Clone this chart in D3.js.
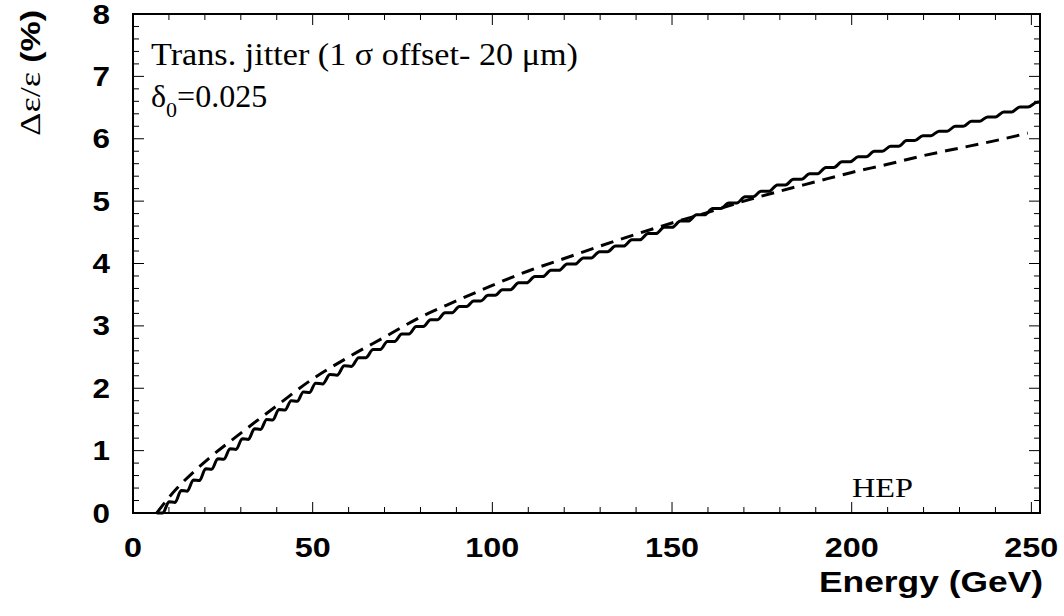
<!DOCTYPE html>
<html><head><meta charset="utf-8">
<script src="https://cdn.jsdelivr.net/npm/d3@7"></script>
<style>body{margin:0;background:#fff}svg{display:block}</style>
</head><body><svg id="c" width="1064" height="616"></svg>
<script>
// ---- data ----
const xTickValues = [0, 50, 100, 150, 200, 250];
const xTickLabels = ["0", "50", "100", "150", "200", "250"];
const yTickValues = [0, 1, 2, 3, 4, 5, 6, 7, 8];
const yTickLabels = ["0", "1", "2", "3", "4", "5", "6", "7", "8"];

// dashed (smooth) curve: energy (GeV), value (%)
const dashedE = [6.6, 10, 20, 30, 40, 50, 60, 70, 80, 90, 100, 110, 120, 130, 140, 150, 160, 170, 180, 190, 200, 210, 220, 230, 240, 249];
const dashedV = [0, 0.25, 0.82, 1.28, 1.72, 2.15, 2.50, 2.82, 3.14, 3.40, 3.65, 3.88, 4.08, 4.28, 4.47, 4.65, 4.82, 5.00, 5.16, 5.31, 5.46, 5.59, 5.73, 5.85, 5.97, 6.09];

// solid (wiggly) curve: [energy, value]
const solidPoints = [
 [6.6,0.00],[8.3,0.00],[10.0,0.18],[11.7,0.17],[13.4,0.36],[15.1,0.35],[16.8,0.53],[18.5,0.52],
 [20.2,0.71],[21.9,0.70],[23.6,0.87],[25.3,0.86],[27.0,1.03],[28.7,1.02],[30.4,1.19],[32.1,1.18],
 [33.8,1.35],[35.5,1.34],[37.2,1.50],[38.9,1.49],[40.6,1.66],[42.3,1.65],[44.0,1.80],[45.7,1.79],
 [47.4,1.94],[49.1,1.93],[50.8,2.08],[52.8,2.07],[54.8,2.22],[56.8,2.21],[58.8,2.36],[60.8,2.35],
 [62.8,2.49],[64.8,2.49],[66.8,2.62],[68.8,2.62],[70.8,2.75],[72.8,2.75],[74.8,2.87],[76.8,2.87],
 [78.8,2.99],[80.8,2.99],[82.8,3.10],[84.8,3.10],[86.8,3.21],[88.8,3.21],[90.8,3.31],[92.8,3.31],
 [94.8,3.40],[96.8,3.40],[98.8,3.49],[100.8,3.49],[102.8,3.58],[105.05,3.58],[107.3,3.69],[109.55,3.69],
 [111.8,3.79],[114.05,3.79],[116.3,3.89],[118.55,3.89],[120.8,3.99],[123.05,3.99],[125.3,4.09],[127.55,4.09],
 [129.8,4.19],[132.05,4.19],[134.3,4.28],[136.55,4.28],[138.8,4.38],[141.05,4.38],[143.3,4.48],[145.55,4.48],
 [147.8,4.58],[150.05,4.58],[152.3,4.68],[154.55,4.68],[156.8,4.78],[159.05,4.78],[161.3,4.88],[163.55,4.88],
 [165.8,4.97],[168.05,4.97],[170.3,5.07],[172.55,5.07],[174.8,5.16],[177.05,5.16],[179.3,5.26],[181.55,5.26],
 [183.8,5.35],[186.05,5.35],[188.3,5.44],[190.55,5.44],[192.8,5.54],[195.05,5.54],[197.3,5.63],[199.55,5.63],
 [201.8,5.71],[204.05,5.71],[206.3,5.80],[208.55,5.80],[210.8,5.88],[213.05,5.88],[215.3,5.97],[217.55,5.97],
 [219.8,6.05],[222.05,6.05],[224.3,6.12],[226.55,6.12],[228.8,6.20],[231.05,6.20],[233.3,6.28],[235.55,6.28],
 [237.8,6.35],[240.05,6.35],[242.3,6.43],[244.55,6.43],[246.8,6.51],[249.05,6.51],[251.3,6.58],[252.4,6.59]
];

// ---- layout ----
const svg = d3.select("#c");
const L = 133, R = 1040, T = 14, B = 513;
const x = d3.scaleLinear().domain([0, 252.4]).range([L, R]);
const y = d3.scaleLinear().domain([0, 8]).range([B, T]);

const sans = "'Liberation Sans', Arial, Helvetica, sans-serif";
const serif = "'Liberation Serif', 'Times New Roman', Times, serif";

// ticks (inward on all four sides)
const xMinor = d3.range(10, 252, 10).filter(v => v % 50 !== 0);
const yMinor = d3.range(0.2, 8, 0.2).filter(v => Math.abs(v - Math.round(v)) > 1e-6);
const tk = svg.append("g").attr("stroke", "#000").attr("stroke-width", 1);
function xt(vals, len) {
  vals.forEach(v => {
    tk.append("line").attr("x1", x(v)).attr("x2", x(v)).attr("y1", B).attr("y2", B - len);
    tk.append("line").attr("x1", x(v)).attr("x2", x(v)).attr("y1", T).attr("y2", T + len);
  });
}
function yt(vals, len) {
  vals.forEach(v => {
    tk.append("line").attr("y1", y(v)).attr("y2", y(v)).attr("x1", L).attr("x2", L + len);
    tk.append("line").attr("y1", y(v)).attr("y2", y(v)).attr("x1", R).attr("x2", R - len);
  });
}
xt(xTickValues, 11); xt(xMinor, 6);
yt(yTickValues, 11); yt(yMinor, 6);

// frame
svg.append("rect").attr("x", L).attr("y", T).attr("width", R - L).attr("height", B - T)
  .attr("fill", "none").attr("stroke", "#000").attr("stroke-width", 2);

// tick labels
svg.append("g").selectAll("text").data(xTickValues).join("text")
  .attr("x", d => x(d)).attr("y", 557).attr("text-anchor", "middle")
  .attr("font-family", sans).attr("font-weight", "bold").attr("font-size", 27)
  .attr("textLength", (d, i) => xTickLabels[i].length * 18).attr("lengthAdjust", "spacingAndGlyphs")
  .text((d, i) => xTickLabels[i]);
svg.append("g").selectAll("text").data(yTickValues).join("text")
  .attr("x", 110).attr("y", d => y(d) + 9.5).attr("text-anchor", "end")
  .attr("font-family", sans).attr("font-weight", "bold").attr("font-size", 27)
  .attr("textLength", 17.5).attr("lengthAdjust", "spacingAndGlyphs")
  .text((d, i) => yTickLabels[i]);

// axis titles
svg.append("text").attr("x", 1043).attr("y", 592).attr("text-anchor", "end")
  .attr("font-family", sans).attr("font-weight", "bold").attr("font-size", 30)
  .attr("textLength", 224).attr("lengthAdjust", "spacingAndGlyphs")
  .text("Energy (GeV)");
const yl = svg.append("text").attr("transform", "translate(40,136) rotate(-90)")
  .attr("textLength", 126).attr("lengthAdjust", "spacingAndGlyphs");
yl.append("tspan").attr("font-family", serif).attr("font-size", 30).text("Δε/ε ");
yl.append("tspan").attr("font-family", sans).attr("font-weight", "bold").attr("font-size", 28).text("(%)");

// annotations
svg.append("text").attr("x", 151).attr("y", 65).attr("font-family", serif).attr("font-size", 32)
  .attr("textLength", 427).attr("lengthAdjust", "spacingAndGlyphs")
  .text("Trans. jitter (1 σ offset- 20 μm)");
const dl = svg.append("text").attr("x", 151).attr("y", 107).attr("font-family", serif).attr("font-size", 32);
dl.append("tspan").text("δ");
dl.append("tspan").attr("font-size", 22).attr("dy", 10).text("0");
dl.append("tspan").attr("dy", -10).text("=0.025");
svg.append("text").attr("x", 852).attr("y", 497).attr("font-family", serif).attr("font-size", 27)
  .attr("textLength", 61).attr("lengthAdjust", "spacingAndGlyphs").text("HEP");

// curves
const g = svg.append("g");
g.append("path")
  .datum(dashedE.map((e, i) => [e, dashedV[i]]))
  .attr("fill", "none").attr("stroke", "#000").attr("stroke-width", 3)
  .attr("stroke-dasharray", "13,8")
  .attr("d", d3.line().x(d => x(d[0])).y(d => y(d[1])).curve(d3.curveMonotoneX));
g.append("path")
  .datum(solidPoints)
  .attr("fill", "none").attr("stroke", "#000").attr("stroke-width", 3)
  .attr("stroke-linejoin", "round")
  .attr("d", d3.line().x(d => x(d[0])).y(d => y(d[1])).curve(d3.curveMonotoneX));
</script>
</body></html>
